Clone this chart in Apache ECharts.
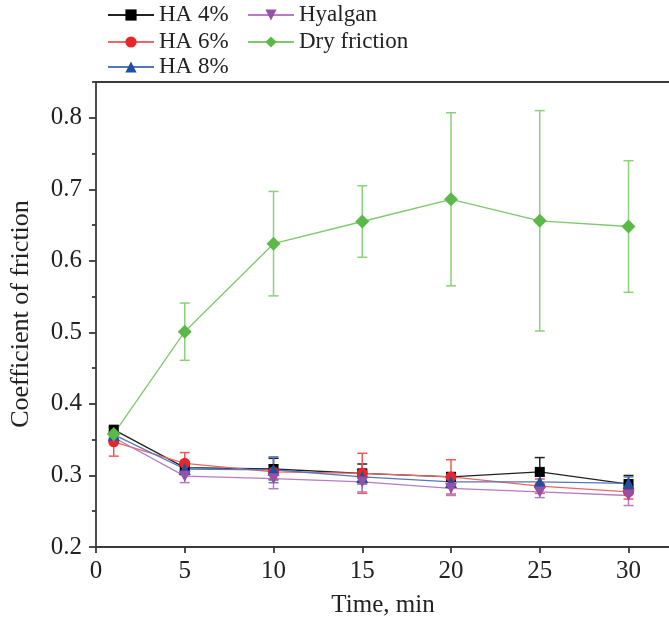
<!DOCTYPE html>
<html>
<head>
<meta charset="utf-8">
<script src="https://cdn.jsdelivr.net/npm/echarts@6/dist/echarts.min.js"></script>
<style>html,body{margin:0;padding:0;background:#fff}#c{width:669px;height:624px}</style>
</head>
<body>
<div id="c"></div>
<script>
const times = [1, 5, 10, 15, 20, 25, 30];
const ha4 = [0.364, 0.311, 0.309, 0.303, 0.298, 0.305, 0.288];
const ha4Err = [0.004, 0.006, 0.015, 0.013, 0.006, 0.020, 0.012];
const ha6 = [0.347, 0.317, 0.305, 0.303, 0.298, 0.285, 0.277];
const ha6Err = [0.020, 0.015, 0.010, 0.028, 0.024, 0.010, 0.010];
const ha8 = [0.357, 0.309, 0.308, 0.298, 0.291, 0.291, 0.289];
const ha8Err = [0.005, 0.008, 0.018, 0.010, 0.008, 0.008, 0.009];
const hyalgan = [0.353, 0.299, 0.2955, 0.291, 0.282, 0.277, 0.272];
const hyalganErr = [0.006, 0.009, 0.014, 0.014, 0.010, 0.008, 0.014];
const dry = [0.358, 0.501, 0.624, 0.655, 0.686, 0.656, 0.648];
const dryErr = [0.004, 0.040, 0.073, 0.050, 0.121, 0.154, 0.092];
const xTicks = [0, 5, 10, 15, 20, 25, 30];
const yTicks = [0.2, 0.3, 0.4, 0.5, 0.6, 0.7, 0.8];
const yMinorTicks = [0.25, 0.35, 0.45, 0.55, 0.65, 0.75, 0.85];

const FONT = '"Liberation Serif", "Times New Roman", serif';
const chart = echarts.init(document.getElementById('c'), null, {renderer: 'canvas'});

const defs = [
  {name: 'HA 4%', vals: ha4, err: ha4Err, color: '#000000', line: '#222222', errColor: '#222222', symbol: 'rect', size: 10},
  {name: 'HA 6%', vals: ha6, err: ha6Err, color: '#e8262a', line: '#ee6660', errColor: '#ee5a55', symbol: 'circle', size: 11},
  {name: 'HA 8%', vals: ha8, err: ha8Err, color: '#1e4fa3', line: '#5577bb', errColor: '#5577bb', symbol: 'triangle', size: 12},
  {name: 'Hyalgan', vals: hyalgan, err: hyalganErr, color: '#9650a8', line: '#b67cc4', errColor: '#b67cc4', symbol: 'path://M0,0 L10,0 L5,9 Z', size: [12, 11]},
  {name: 'Dry friction', vals: dry, err: dryErr, color: '#5ab947', line: '#7dc96b', errColor: '#8ad17a', symbol: 'diamond', size: 14}
];

const series = [];
defs.forEach(d => {
  series.push({
    type: 'custom',
    name: d.name + ' err',
    xAxisIndex: 0, yAxisIndex: 0,
    silent: true,
    data: times.map((t, i) => [t, d.vals[i] - d.err[i], d.vals[i] + d.err[i]]),
    renderItem: function (params, api) {
      const x = api.value(0);
      const p1 = api.coord([x, api.value(2)]);
      const p2 = api.coord([x, api.value(1)]);
      const hw = 5;
      const st = {stroke: d.errColor, lineWidth: 1.5};
      return {type: 'group', children: [
        {type: 'line', shape: {x1: p1[0], y1: p1[1], x2: p2[0], y2: p2[1]}, style: st},
        {type: 'line', shape: {x1: p1[0] - hw, y1: p1[1], x2: p1[0] + hw, y2: p1[1]}, style: st},
        {type: 'line', shape: {x1: p2[0] - hw, y1: p2[1], x2: p2[0] + hw, y2: p2[1]}, style: st}
      ]};
    },
    z: 2
  });
  series.push({
    type: 'line',
    name: d.name,
    xAxisIndex: 0, yAxisIndex: 0,
    data: times.map((t, i) => [t, d.vals[i]]),
    symbol: d.symbol,
    symbolSize: d.size,
    showAllSymbol: true,
    itemStyle: {color: d.color},
    lineStyle: {color: d.line, width: 1.3},
    emphasis: {disabled: true},
    animation: false,
    z: 2
  });
});

const legendBase = {
  padding: 0, itemWidth: 46, itemHeight: 14, selectedMode: false, orient: 'vertical',
  textStyle: {fontFamily: FONT, fontSize: 23, color: '#222', lineHeight: 26}
};
const legends = [
  Object.assign({}, legendBase, {left: 107, top: 2, data: ['HA 4%']}),
  Object.assign({}, legendBase, {left: 107, top: 29, data: ['HA 6%']}),
  Object.assign({}, legendBase, {left: 107, top: 54, data: ['HA 8%']}),
  Object.assign({}, legendBase, {left: 247, top: 2, data: ['Hyalgan']}),
  Object.assign({}, legendBase, {left: 247, top: 29, data: ['Dry friction']})
];

const axisLineStyle = {color: '#3a3a3a', width: 1.8};

chart.setOption({
  animation: false,
  backgroundColor: '#ffffff',
  legend: legends,
  grid: {left: 96, top: 82, right: 0, height: 465, show: false},
  xAxis: [{
    type: 'value', min: 0, max: 32.28, interval: 5,
    axisLine: {show: true, lineStyle: axisLineStyle},
    axisTick: {show: true, inside: false, length: 6, lineStyle: axisLineStyle, customValues: xTicks},
    axisLabel: {show: true, margin: 12, fontFamily: FONT, fontSize: 25, color: '#222', customValues: xTicks},
    splitLine: {show: false}
  }, {
    type: 'value', min: 0, max: 32.28, interval: 5, position: 'top',
    axisLine: {show: true, lineStyle: axisLineStyle},
    axisTick: {show: false},
    axisLabel: {show: false},
    splitLine: {show: false}
  }],
  yAxis: [{
    type: 'value', min: 0.2, max: 0.85, interval: 0.1,
    axisLine: {show: true, lineStyle: axisLineStyle},
    axisTick: {show: true, inside: false, length: 7, lineStyle: axisLineStyle, customValues: yTicks},
    axisLabel: {show: true, margin: 14, fontFamily: FONT, fontSize: 25, color: '#222', customValues: yTicks,
      formatter: v => v.toFixed(1)},
    splitLine: {show: false}
  }, {
    type: 'value', min: 0.2, max: 0.85, interval: 0.05, position: 'left',
    axisLine: {show: false},
    axisTick: {show: true, inside: false, length: 4, lineStyle: axisLineStyle, customValues: yMinorTicks},
    axisLabel: {show: false},
    splitLine: {show: false}
  }],
  graphic: [
    {type: 'text', x: 383, y: 605, style: {text: 'Time, min', font: '25px ' + FONT, fill: '#222', align: 'center', verticalAlign: 'middle'}},
    {type: 'text', x: 21, y: 314, rotation: Math.PI / 2, style: {text: 'Coefficient of friction', font: '26px ' + FONT, fill: '#222', align: 'center', verticalAlign: 'middle'}}
  ],
  series: series
});
</script>
</body>
</html>
